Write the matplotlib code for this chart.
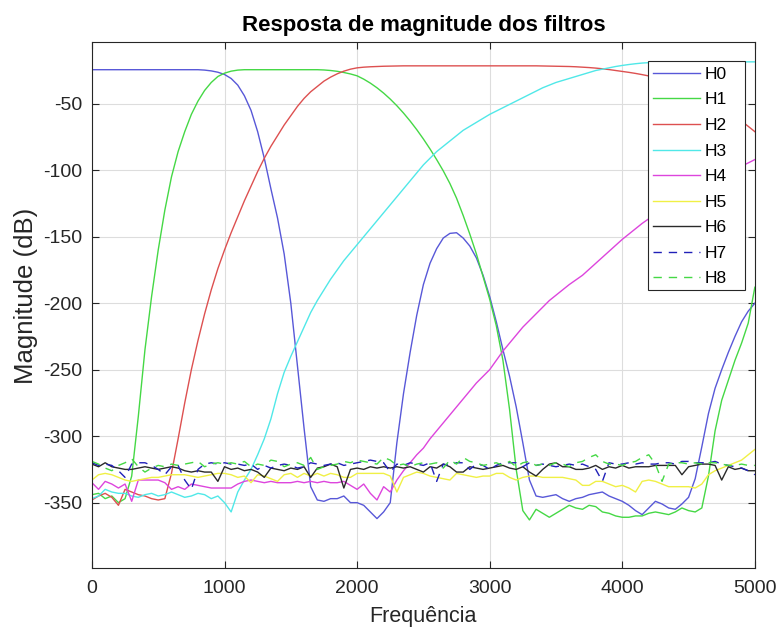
import numpy as np
import matplotlib
matplotlib.use('Agg')
from matplotlib import pyplot as plt
from matplotlib.patches import Rectangle

plt.rcParams['font.family'] = ['Liberation Sans', 'DejaVu Sans']
plt.rcParams['axes.unicode_minus'] = False

# frequency grid (Hz), 50 Hz step
freq = [0, 50, 100, 150, 200, 250, 300, 350, 400, 450,
        500, 550, 600, 650, 700, 750, 800, 850, 900, 950,
        1000, 1050, 1100, 1150, 1200, 1250, 1300, 1350, 1400, 1450,
        1500, 1550, 1600, 1650, 1700, 1750, 1800, 1850, 1900, 1950,
        2000, 2050, 2100, 2150, 2200, 2250, 2300, 2350, 2400, 2450,
        2500, 2550, 2600, 2650, 2700, 2750, 2800, 2850, 2900, 2950,
        3000, 3050, 3100, 3150, 3200, 3250, 3300, 3350, 3400, 3450,
        3500, 3550, 3600, 3650, 3700, 3750, 3800, 3850, 3900, 3950,
        4000, 4050, 4100, 4150, 4200, 4250, 4300, 4350, 4400, 4450,
        4500, 4550, 4600, 4650, 4700, 4750, 4800, 4850, 4900, 4950,
        5000]

h0 = [-24.4, -24.4, -24.4, -24.4, -24.4, -24.4, -24.4, -24.4, -24.4, -24.4,
      -24.4, -24.4, -24.4, -24.4, -24.4, -24.4, -24.4, -24.7, -25.3, -26.3,
      -28, -31, -36, -44, -55, -71, -91, -114, -136, -163,
      -200, -247, -294, -338, -348, -349, -347, -347, -345, -350,
      -350, -352, -357, -362, -357, -350, -305, -268, -237, -209,
      -186, -170, -159, -151, -147.5, -147, -151, -157, -166, -179,
      -195, -214, -235, -255, -278, -305, -333, -345, -346, -345,
      -344, -347, -349, -347, -346, -344, -343, -342, -345, -347,
      -349, -352, -356, -359, -354, -349, -351, -354, -355, -351,
      -346, -332, -308, -283, -264, -250, -237, -225, -214, -206,
      -200]

h1 = [-344, -343, -347, -345, -350, -347, -330, -285, -235, -195,
      -160, -130, -105, -86, -71, -58, -48, -40, -34, -29.5,
      -27, -25.5, -24.7, -24.4, -24.4, -24.4, -24.4, -24.4, -24.4, -24.4,
      -24.4, -24.4, -24.4, -24.4, -24.4, -24.6, -25, -25.6, -26.5, -27.6,
      -29, -31.5, -34.5, -38, -42, -46.5, -51.5, -57, -63, -69.5,
      -76.5, -84, -92, -100.5, -110, -121, -134, -148, -163, -180,
      -197, -217, -243, -280, -325, -356, -363, -355, -358, -361,
      -358, -355, -352, -354, -355, -352, -353, -357, -358, -360,
      -361, -361, -360, -360, -358, -357, -358, -359, -357, -354,
      -356, -357, -354, -330, -296, -273, -258, -243, -230, -215,
      -188]

h2 = [-348, -345, -343, -346, -352, -340, -342, -344, -345, -347,
      -348, -347, -328, -302, -275, -250, -228, -208, -190, -174,
      -160, -147, -135, -123, -112, -101, -91, -82, -74, -66,
      -59, -52, -46, -41, -37, -33, -30, -27.5, -25.5, -24,
      -23, -22.5, -22.2, -22, -21.8, -21.7, -21.6, -21.5, -21.5, -21.5,
      -21.5, -21.5, -21.5, -21.5, -21.5, -21.5, -21.5, -21.5, -21.5, -21.5,
      -21.5, -21.5, -21.5, -21.5, -21.5, -21.5, -21.5, -21.5, -21.6, -21.7,
      -21.8, -21.9, -22, -22.2, -22.5, -22.8, -23.2, -23.7, -24.3, -25,
      -25.7, -26.4, -27.2, -28.1, -29.1, -30.2, -31.4, -32.7, -34.1, -35.6,
      -38, -40.5, -43, -46, -49.5, -53, -56, -59.5, -63, -67,
      -71]

h3 = [-347, -345, -340, -342, -343, -343, -345, -346, -344, -343,
      -345, -344, -342, -344, -346, -345, -343, -344, -347, -345,
      -350, -357, -342, -333, -325, -314, -302, -287, -268, -252,
      -240, -229, -218, -207, -198, -190, -182, -175, -168, -162,
      -156, -150, -144, -138, -132, -126, -120, -114, -108, -102,
      -96, -91, -86, -82, -78, -74, -70, -67, -64, -61,
      -58, -55.5, -53, -50.5, -48, -45.5, -43, -40.5, -38, -36,
      -34, -32.5, -31, -29.5, -28, -26.5, -25, -24, -23, -22,
      -21.2, -20.5, -19.9, -19.4, -19.1, -18.9, -18.8, -18.7, -18.6, -18.5,
      -18.5, -18.5, -18.5, -18.5, -18.5, -18.5, -18.5, -18.5, -18.5, -18.5,
      -18.5]

h4 = [-335, -340, -334, -336, -339, -336, -349, -333, -333, -333,
      -333, -335, -340, -338, -340, -336, -337, -338, -339, -339,
      -339, -339, -336, -334, -333, -334, -335, -334, -335, -335,
      -335, -334, -335, -334, -335, -334, -335, -335, -334, -337,
      -340, -336, -343, -348, -338, -342, -333, -326, -320, -314,
      -309, -302, -296, -290, -284, -278, -272, -266, -260, -255,
      -250, -243, -236, -230, -224, -218, -213, -208, -203, -198,
      -194, -190, -186, -182.5, -179, -174.5, -170, -165.5, -161, -156.5,
      -152, -148, -144, -140, -136.5, -133, -129.5, -126, -123, -120,
      -117, -114, -111, -108.5, -106, -103.5, -101, -99, -97, -94.5,
      -92]

h5 = [-333, -329, -328, -329, -331, -333, -334, -333, -332, -331,
      -331, -330, -329, -329, -329, -330, -331, -330, -329, -328,
      -328, -329, -331, -330, -335, -329, -330, -332, -334, -329,
      -328, -331, -328, -330, -328, -330, -328, -329, -331, -331,
      -328, -328, -328, -328, -328, -330, -342, -331, -329, -327,
      -328, -330, -331, -332, -333, -328, -329, -330, -331, -330,
      -330, -328, -328, -331, -333, -331, -330, -330, -331, -331,
      -331, -331, -332, -333, -337, -337, -334, -334, -336, -338,
      -337, -339, -342, -334, -333, -334, -336, -338, -338, -338,
      -338, -339, -336, -329, -326, -324, -322, -320, -318, -314,
      -310]

h6 = [-321, -323, -320, -323, -324, -325, -325, -324, -323, -324,
      -325, -324, -323, -324, -326, -327, -326, -327, -327, -334,
      -323, -325, -324, -326, -325, -327, -331, -324, -325, -326,
      -324, -325, -323, -331, -324, -323, -321, -323, -339, -325,
      -324, -325, -323, -324, -323, -324, -323, -324, -323, -325,
      -327, -323, -324, -321, -323, -327, -327, -323, -324, -325,
      -324, -323, -322, -324, -325, -323, -327, -330, -325, -321,
      -320, -323, -323, -325, -325, -324, -322, -325, -323, -324,
      -322, -324, -323, -323, -323, -322, -322, -322, -322, -329,
      -323, -322, -321, -321, -322, -333, -323, -325, -324, -326,
      -326]

h7 = [-320, -322, -321, -322, -326, -331, -321, -320, -320, -322,
      -325, -329, -323, -322, -333, -340, -325, -321, -320, -321,
      -320, -321, -321, -322, -321, -325, -322, -324, -322, -321,
      -322, -324, -323, -320, -321, -322, -321, -320, -322, -321,
      -320, -319, -318, -319, -320, -327, -321, -322, -320, -321,
      -322, -320, -334, -321, -322, -320, -320, -325, -321, -322,
      -325, -322, -320, -320, -320, -323, -320, -322, -321, -322,
      -323, -322, -321, -322, -321, -323, -325, -334, -320, -321,
      -321, -320, -321, -320, -321, -321, -320, -320, -321, -319,
      -319, -320, -320, -320, -319, -321, -322, -323, -324, -326,
      -329]

h8 = [-319, -321, -324, -326, -322, -320, -317, -323, -327, -324,
      -322, -323, -321, -322, -321, -320, -319, -323, -321, -320,
      -321, -320, -321, -319, -323, -321, -322, -318, -319, -323,
      -321, -320, -322, -316, -325, -323, -322, -321, -319, -320,
      -318, -319, -320, -321, -316, -318, -322, -321, -323, -321,
      -320, -321, -320, -324, -318, -321, -316, -319, -320, -322,
      -321, -320, -322, -319, -323, -320, -319, -322, -321, -322,
      -320, -321, -323, -320, -319, -316, -314, -319, -321, -321,
      -322, -320, -319, -316, -314, -321, -334, -321, -320, -320,
      -321, -320, -321, -320, -320, -321, -322, -322, -321, -322,
      -322]

names = ['H0', 'H1', 'H2', 'H3', 'H4', 'H5', 'H6', 'H7', 'H8']
series = [h0, h1, h2, h3, h4, h5, h6, h7, h8]
colors = ['#5858d8', '#45d845', '#dd5050', '#50e8e8', '#dd45dd',
          '#f0f045', '#2a2a2a', '#2020b8', '#45d845']
styles = ['-', '-', '-', '-', '-', '-', '-', '--', '--']

fig = plt.figure(figsize=(7.79, 6.33), dpi=100)
ax = fig.add_axes([0.118, 0.103, 0.851, 0.831])

for y, name, c, ls in zip(series, names, colors, styles):
    line, = ax.plot(freq, y, color=c, linestyle=ls, linewidth=1.0, label=name)
    if ls == '--':
        line.set_dashes((6, 5))

ax.set_xlim(0, 5000)
ax.set_ylim(-399, -3.4)
ax.set_xticks([0, 1000, 2000, 3000, 4000, 5000])
ax.set_yticks([-350, -300, -250, -200, -150, -100, -50])
ax.grid(True, color='#dddddd', linewidth=0.8)
ax.set_axisbelow(True)
ax.tick_params(direction='in', top=True, right=True, length=5,
               labelsize=14, colors='#262626', width=0.8)
ax.tick_params(axis='x', pad=9)
ax.tick_params(axis='y', pad=7)
for s in ax.spines.values():
    s.set_color('#262626')
    s.set_linewidth(0.8)

ax.set_xlabel('Frequência', fontsize=15.5, color='#262626', labelpad=6.5)
ax.set_ylabel('Magnitude (dB)', fontsize=18.5, color='#262626')
ax.yaxis.set_label_coords(-0.082, 0.516)
ax.set_title('Resposta de magnitude dos filtros', fontsize=16,
             fontweight='bold', pad=8)

# legend box drawn separately (MATLAB style, wide right margin)
box = Rectangle((0.8386, 0.5285), 0.1464, 0.4354, transform=ax.transAxes,
                facecolor='white', edgecolor='#262626', linewidth=0.8,
                zorder=4.5)
ax.add_patch(box)
leg = ax.legend(loc='upper left', bbox_to_anchor=(0.846, 0.9525),
                borderaxespad=0, borderpad=0, fontsize=12.5, handlelength=2.7,
                labelspacing=0.6, frameon=False, handletextpad=0.3)
leg.set_zorder(5)

fig.savefig('out.png', dpi=100)
